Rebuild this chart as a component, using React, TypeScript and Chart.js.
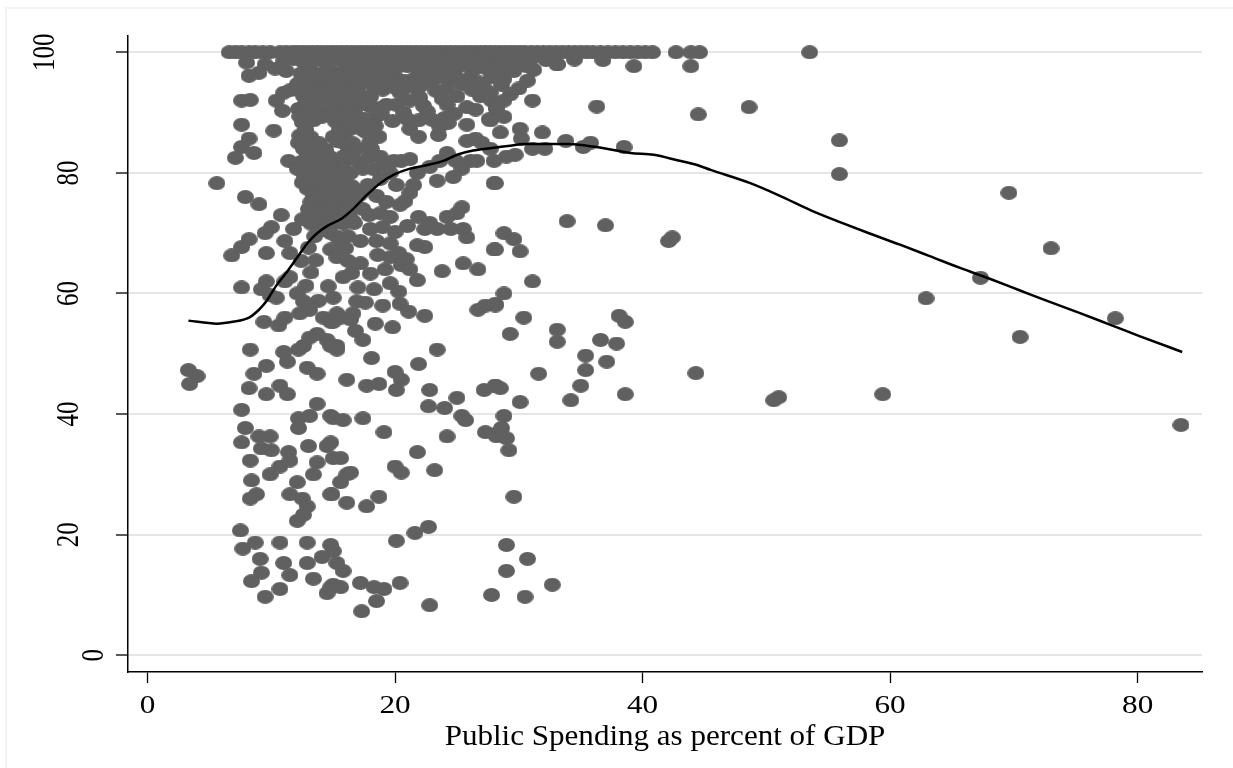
import React, { useEffect, useRef } from "react";
import { Chart, registerables } from "chart.js";

Chart.register(...registerables);

// Axis ticks and title
const xTicks = [0, 20, 40, 60, 80];
const yTicks = [0, 20, 40, 60, 80, 100];
const xTitle = "Public Spending as percent of GDP";

// Observations sitting at the 100 ceiling (x = public spending, % of GDP)
const pointsAt100X = [
  6.6, 7.1, 7.6, 8.2, 8.7, 9.3, 9.9, 10.7, 11.2, 11.7, 12.1, 12.5, 12.9, 13.3, 13.7, 14.1, 14.5, 14.9,
  15.3, 15.7, 16.1, 16.5, 16.9, 17.3, 17.7, 18.1, 18.5, 18.9, 19.3, 19.7, 20.1, 20.5, 20.9, 21.3, 21.7,
  22.1, 22.5, 22.9, 23.3, 23.7, 24.1, 24.5, 24.9, 25.3, 25.7, 26.1, 26.5, 26.9, 27.3, 27.7, 28.1, 28.5,
  28.9, 29.3, 29.7, 30.1, 30.5, 31.0, 31.5, 32.0, 32.5, 33.0, 33.5, 34.0, 34.5, 35.0, 35.5, 36.0, 36.6,
  37.2, 37.8, 38.4, 39.0, 39.6, 40.2, 40.8, 42.7, 43.9, 44.6, 53.5,
];

// Band just below the ceiling
const upperBand: [number, number][] = [
  [8.0, 98.3], [9.5, 98.0], [10.3, 97.3], [11.0, 98.6], [11.8, 98.9], [12.6, 98.4], [13.4, 98.8],
  [14.2, 98.5], [15.0, 98.9], [15.8, 98.4], [16.6, 98.8], [17.4, 98.3], [18.2, 98.7], [19.0, 98.4],
  [19.8, 98.9], [20.6, 98.5], [21.4, 98.8], [22.2, 98.4], [23.0, 98.9], [23.8, 98.5], [24.6, 98.8],
  [25.4, 98.3], [26.2, 98.7], [27.0, 98.4], [27.8, 98.8], [28.6, 98.5], [29.4, 99.0], [30.2, 98.6],
  [31.0, 98.9], [32.2, 98.7], [33.1, 98.0], [34.5, 98.8], [36.8, 98.7],
  [9.0, 96.6], [11.2, 96.9], [12.4, 96.5], [13.2, 97.0], [14.0, 96.4], [14.8, 96.9], [15.6, 96.5],
  [16.4, 97.0], [17.2, 96.4], [18.0, 96.8], [19.1, 97.0], [20.1, 95.7], [20.8, 95.3], [22.0, 97.0],
  [23.2, 96.6], [24.1, 96.9], [24.8, 96.2], [25.5, 95.3], [26.3, 97.0], [27.4, 97.3], [28.4, 96.8],
  [29.6, 96.9], [31.2, 97.1], [39.3, 97.7], [43.9, 97.7], [8.2, 96.1],
  [17.0, 97.6], [17.8, 97.7], [18.6, 97.5], [19.4, 97.8], [20.2, 97.6], [21.0, 97.7], [21.8, 97.5],
  [22.6, 97.8], [23.4, 97.6], [24.2, 97.7], [25.0, 97.5], [25.8, 97.8], [26.6, 97.6], [27.4, 97.7],
  [28.2, 97.5], [29.0, 97.8], [29.8, 97.6], [30.6, 97.7],
  [18.6, 95.8], [19.4, 95.9], [21.6, 95.7], [22.4, 95.9], [23.2, 95.6], [24.0, 95.8], [26.0, 95.7],
  [27.8, 95.9], [28.8, 95.6],
  [17.0, 94.0], [19.0, 93.8], [20.0, 94.1], [21.8, 93.9], [24.2, 94.0], [26.2, 93.8], [27.2, 94.1],
  [18.0, 91.0], [18.8, 90.8], [22.3, 91.1], [25.8, 90.9], [18.3, 89.0], [21.0, 88.9], [24.0, 89.1],
];

// Crowded core between roughly 12 and 28 percent
const denseCore: [number, number][] = [
  [12.3, 95.0], [13.2, 94.6], [14.1, 95.2], [15.0, 94.7], [15.9, 95.1], [16.8, 94.4], [17.7, 95.2],
  [12.6, 92.8], [13.5, 93.1], [14.4, 92.5], [15.3, 92.9], [17.1, 93.0], [18.3, 94.0],
  [12.2, 90.6], [13.1, 90.3], [14.0, 90.8], [14.9, 90.4], [15.8, 90.9], [16.7, 90.2],
  [12.5, 88.4], [13.4, 88.7], [15.2, 88.5], [16.1, 88.0], [17.0, 88.8],
  [12.3, 86.2], [13.2, 85.9], [15.0, 86.0], [15.9, 86.5],
  [12.6, 84.0], [13.5, 84.3], [14.4, 83.8], [16.2, 83.7],
  [12.4, 81.8], [13.3, 81.5], [14.2, 82.0], [15.1, 81.6], [16.0, 82.1], [17.0, 81.9],
  [12.7, 79.6], [13.6, 79.9], [14.5, 79.3], [15.4, 79.7],
  [12.9, 77.4], [13.8, 77.1], [14.7, 77.6], [15.6, 77.2], [16.5, 77.8], [17.4, 77.0],
  [13.2, 75.2], [14.1, 75.5], [15.0, 74.9], [15.9, 75.3], [16.8, 74.8],
  [13.6, 73.0], [14.5, 72.6], [15.4, 73.2], [16.3, 72.7],
  [19.5, 95.0], [21.0, 94.3], [22.4, 94.8], [23.3, 93.6], [18.9, 89.8], [19.8, 88.6], [17.5, 89.0],
  [20.7, 90.0], [22.6, 90.2], [23.0, 88.8], [24.8, 89.8], [25.8, 88.0], [26.5, 90.5], [27.6, 88.9],
  [25.0, 95.6], [26.8, 95.0], [28.6, 94.6], [22.0, 92.5],
];

// Second layer of the crowded core, offset between the rows above
const coreFill: [number, number][] = [
  [12.8, 96.0], [13.7, 96.1], [14.6, 95.9], [15.5, 96.0], [16.4, 96.1],
  [12.2, 93.8], [13.0, 93.9], [13.9, 93.7], [14.8, 93.8], [15.7, 93.9],
  [12.8, 91.6], [13.6, 91.7], [14.5, 91.5], [15.4, 91.6], [16.3, 91.7], [17.3, 91.5],
  [12.3, 89.4], [13.2, 89.5], [14.1, 89.3], [15.0, 89.4], [15.9, 89.5], [16.8, 89.3],
  [12.8, 87.2], [15.5, 87.2], [16.4, 87.3], [17.4, 87.1],
  [12.2, 85.0], [13.0, 85.1], [13.9, 84.9], [15.7, 85.1], [16.6, 84.9],
  [12.9, 82.8], [13.8, 82.9], [14.7, 82.7], [16.5, 82.9],
  [12.3, 80.6], [13.1, 80.7], [14.0, 80.5], [14.9, 80.6], [15.8, 80.7],
  [12.5, 78.4], [13.3, 78.5], [14.2, 78.3], [15.1, 78.4], [16.0, 78.5],
  [13.4, 76.2], [14.3, 76.3], [15.2, 76.1], [16.1, 76.2], [17.1, 76.3],
  [13.0, 74.0], [13.9, 74.1], [14.8, 73.9], [15.7, 74.0], [16.6, 74.1],
  [13.2, 71.6], [14.0, 71.7], [14.9, 71.5], [15.8, 71.6], [16.7, 71.7],
  [13.5, 69.5], [15.3, 69.4], [16.2, 69.5],
  [13.0, 67.6], [16.0, 67.5],
  [12.4, 65.4], [13.6, 65.5], [16.2, 65.4],
  [13.2, 63.5], [16.5, 63.4],
  [12.8, 61.3], [14.6, 61.2], [17.0, 61.0],
  [13.8, 58.8], [16.9, 58.7],
  [18.0, 92.6], [18.4, 87.8], [17.9, 84.9], [18.3, 80.6], [17.9, 82.6],
  [17.8, 78.0], [18.5, 76.2], [19.3, 75.2], [17.9, 73.0], [19.0, 71.0], [20.0, 70.2], [21.0, 71.2],
  [18.6, 66.4], [19.2, 64.0], [21.8, 62.2], [17.2, 65.0], [17.6, 58.5], [19.0, 58.0], [16.8, 53.8],
  [18.4, 55.0], [19.8, 54.4],
];

// Lowest spending levels (below about 15 percent)
const leftColumn: [number, number][] = [
  [3.3, 47.3], [4.0, 46.3], [3.4, 45.0], [5.6, 78.3],
  [7.6, 92.0], [8.3, 92.1], [10.4, 92.0], [11.0, 93.3], [11.5, 93.7], [12.1, 94.7],
  [7.6, 88.0], [10.2, 87.0], [10.9, 90.3],
  [8.2, 85.7], [7.6, 84.3], [8.6, 83.3], [7.1, 82.5],
  [11.4, 82.0], [12.1, 80.7], [12.7, 79.0],
  [7.9, 76.0], [9.0, 74.8],
  [10.8, 73.0], [10.0, 71.0], [9.5, 70.0], [8.2, 69.0], [7.6, 67.7], [6.8, 66.3],
  [9.6, 66.7], [11.5, 66.7], [11.1, 68.7], [11.8, 70.7], [12.5, 72.3], [13.1, 73.7], [14.2, 70.5], [14.8, 70.0],
  [7.6, 61.0], [9.6, 62.0], [9.2, 60.7], [9.9, 59.7], [10.4, 59.3], [11.1, 62.0], [11.5, 62.7],
  [12.1, 60.0], [12.6, 58.7], [13.1, 57.3], [12.3, 56.7],
  [9.4, 55.3], [10.6, 54.7], [11.1, 56.0],
  [14.2, 56.0], [14.8, 55.3], [15.3, 56.7], [13.7, 53.3], [14.5, 52.3], [15.3, 51.3], [13.1, 52.7],
  [12.6, 51.3], [12.2, 50.7],
  [8.3, 50.7], [9.6, 48.0], [8.6, 46.7], [8.2, 44.3],
  [11.0, 50.3], [11.3, 48.7], [10.7, 44.7], [11.3, 43.3], [9.6, 43.3],
  [12.9, 47.7], [13.7, 46.7], [13.7, 41.7], [13.1, 39.7],
  [7.6, 40.7], [7.9, 37.7], [7.6, 35.3], [8.3, 32.3], [8.4, 29.0], [8.8, 26.7], [8.3, 26.0],
  [9.0, 36.3], [9.9, 36.3], [9.2, 34.3], [10.0, 34.0], [10.7, 31.3], [9.9, 30.0],
  [12.2, 39.3], [12.2, 37.7], [11.4, 33.7], [11.5, 32.3], [12.1, 28.7], [11.5, 26.7], [12.5, 26.0],
  [12.9, 24.7], [12.6, 23.3], [12.1, 22.3],
  [13.0, 34.7], [13.7, 32.0], [14.5, 34.7], [15.0, 32.7], [14.9, 26.7], [13.4, 30.0], [15.0, 39.3],
  [7.5, 20.7], [7.7, 17.7], [8.7, 18.7], [9.1, 16.0], [9.2, 13.7], [8.4, 12.3], [9.5, 9.7],
  [10.7, 18.7], [11.0, 15.3], [10.7, 11.0], [11.5, 13.3], [12.9, 18.7], [12.9, 15.3], [13.4, 12.7],
  [14.1, 16.3], [14.5, 10.3], [15.0, 11.7], [15.0, 17.3],
];

// Middle spending levels (about 15 to 28 percent)
const middleColumn: [number, number][] = [
  [16.4, 93.3], [17.4, 92.0], [19.3, 91.3], [20.4, 93.3], [20.1, 91.3], [21.2, 92.0],
  [23.8, 92.3], [24.2, 91.3], [25.0, 92.7], [25.4, 94.7], [26.9, 92.7], [27.4, 93.3], [27.8, 92.0], [28.2, 90.7],
  [21.2, 87.3], [21.9, 88.7], [21.9, 86.0], [23.5, 86.3], [23.6, 87.7], [24.3, 88.3], [25.8, 85.3],
  [26.5, 85.7], [27.0, 85.0], [27.7, 84.0], [28.0, 82.0],
  [16.4, 88.0], [17.7, 86.7], [18.7, 86.0], [18.1, 84.0], [18.8, 82.7], [19.1, 81.3], [19.9, 82.0],
  [20.5, 82.0], [21.2, 82.3],
  [15.3, 85.3], [15.8, 82.7], [16.9, 84.0], [15.0, 80.0], [16.4, 80.0], [17.4, 80.7],
  [21.8, 80.0], [22.8, 81.0], [23.6, 82.0], [24.2, 83.3], [24.9, 82.0], [23.4, 78.7], [24.7, 79.3],
  [25.4, 80.7], [26.1, 82.0], [26.6, 82.0],
  [19.6, 80.0], [18.8, 79.0], [20.1, 78.0], [21.2, 76.7], [21.5, 78.0], [20.8, 75.3], [20.4, 74.7],
  [28.0, 78.3],
  [15.3, 76.7], [16.4, 75.3], [17.4, 74.0], [16.6, 72.0], [18.0, 70.7], [15.6, 72.0], [14.8, 74.0],
  [18.8, 73.3], [19.6, 72.7], [17.2, 68.7], [15.6, 68.7],
  [21.9, 72.7], [22.4, 70.7], [22.8, 71.7], [23.4, 70.7], [24.2, 72.7], [24.5, 70.7], [25.0, 73.3],
  [25.4, 74.3], [25.8, 69.3], [25.5, 70.7],
  [28.0, 67.3],
  [18.5, 68.7], [19.6, 68.3], [20.3, 66.7], [19.6, 66.0], [20.5, 64.7], [20.9, 65.7], [21.2, 64.0],
  [21.8, 68.0], [22.4, 67.7],
  [23.8, 63.7], [25.5, 65.0], [26.7, 64.0],
  [18.0, 63.3], [18.3, 60.7], [19.6, 61.7], [20.3, 60.3], [20.4, 58.3], [21.1, 57.0], [22.4, 56.3],
  [26.7, 57.3], [27.3, 58.0], [28.1, 58.3],
  [14.8, 67.3], [15.3, 66.0], [15.8, 62.7], [15.0, 59.3], [15.6, 56.0], [16.4, 55.7], [15.0, 55.3], [16.6, 56.7],
  [17.4, 52.3], [18.1, 49.3], [16.1, 45.7], [17.7, 44.7], [18.7, 45.0], [20.0, 47.0], [20.5, 45.7],
  [20.1, 44.0], [22.8, 44.0], [23.4, 50.7], [21.9, 48.3],
  [14.8, 51.3], [15.3, 50.7],
  [22.7, 41.3], [24.0, 41.0], [25.0, 42.7], [25.4, 39.7], [25.7, 39.0], [27.2, 44.0], [28.1, 44.7],
  [27.3, 37.0], [28.2, 36.3],
  [14.8, 39.7], [15.8, 39.0], [17.4, 39.3], [19.1, 37.0], [24.2, 36.3],
  [14.8, 35.3], [15.6, 32.7], [16.1, 30.0], [16.4, 30.3], [15.6, 28.7], [14.8, 26.7], [16.1, 25.3],
  [17.7, 24.7], [18.7, 26.3],
  [20.0, 31.3], [20.5, 30.3], [21.8, 33.7], [23.2, 30.7],
  [20.1, 19.0], [21.6, 20.3], [22.7, 21.3],
  [14.8, 18.3], [15.3, 15.3], [15.8, 14.0], [14.8, 11.3], [15.6, 11.3], [17.2, 12.0], [18.3, 11.3],
  [19.1, 11.0], [18.5, 9.0], [17.3, 7.3], [20.4, 12.0], [22.8, 8.3], [27.8, 10.0],
];

// Upper-middle spending levels (about 28 to 45 percent)
const rightColumn: [number, number][] = [
  [27.7, 97.3], [29.4, 99.0], [33.1, 98.0],
  [30.7, 95.3], [30.0, 94.0], [29.3, 93.0], [28.8, 92.0], [31.1, 92.0], [36.3, 91.0],
  [44.5, 89.7],
  [27.7, 93.3], [28.2, 90.7], [28.8, 89.3], [27.7, 88.7], [28.5, 86.7],
  [30.1, 87.3], [31.9, 86.7], [30.2, 85.7], [31.1, 84.0], [32.1, 84.0], [33.8, 85.3], [35.2, 84.3],
  [35.8, 85.0], [38.5, 84.3], [29.0, 82.7], [29.7, 83.0],
  [28.1, 78.3],
  [33.9, 72.0], [37.0, 71.3], [42.1, 68.7], [42.4, 69.3],
  [28.8, 70.0], [29.6, 69.0], [28.1, 67.3], [30.1, 67.0],
  [31.1, 62.0],
  [28.8, 60.0], [28.1, 58.0], [30.4, 56.0], [29.3, 53.3], [33.1, 54.0], [33.1, 52.0], [36.6, 52.3],
  [37.9, 51.7], [38.1, 56.3], [38.6, 55.3], [35.4, 49.7], [35.4, 47.3], [37.1, 48.7], [35.0, 44.7],
  [34.2, 42.3], [38.6, 43.3], [31.6, 46.7], [44.3, 46.8],
  [28.1, 44.7], [28.5, 44.3], [30.1, 42.0],
  [28.8, 39.7], [28.6, 37.7], [28.1, 36.7], [29.0, 36.0], [29.2, 34.0],
  [29.6, 26.3],
  [29.0, 18.3], [30.7, 16.0], [29.0, 14.0], [32.7, 11.7], [30.5, 9.7],
];

// High spending outliers
const farRight: [number, number][] = [
  [48.6, 90.9], [55.9, 85.4], [55.9, 79.8], [69.6, 76.7], [73.0, 67.5], [67.3, 62.6], [62.9, 59.2],
  [78.2, 55.9], [70.5, 52.8], [50.6, 42.3], [51.0, 42.8], [59.4, 43.3], [83.5, 38.2],
];

// Lowess smoother
const lowessX = [
  3.3, 5.6, 6.9, 8.2, 9.0, 9.6, 10.4, 11.3, 12.1, 12.9, 13.7, 14.6, 15.6, 16.6, 17.7, 18.8, 19.9, 21.2,
  22.6, 23.9, 25.0, 26.3, 27.7, 29.3, 30.4, 31.7, 33.9, 35.5, 37.1, 39.0, 40.9, 42.8, 44.4, 45.5, 48.7,
  51.1, 53.6, 56.0, 58.4, 60.8, 63.2, 65.7, 68.1, 70.5, 72.9, 75.4, 77.8, 80.2, 83.6,
];
const lowessY = [
  55.5, 55.0, 55.3, 56.0, 57.3, 58.7, 61.3, 63.7, 66.0, 68.3, 70.0, 71.3, 72.3, 74.0, 76.3, 78.3, 79.7, 80.7,
  81.3, 82.0, 83.0, 83.7, 84.1, 84.5, 84.8, 84.8, 84.8, 84.5, 84.0, 83.3, 83.0, 82.1, 81.3, 80.5, 78.3,
  76.2, 73.8, 71.8, 69.9, 68.1, 66.2, 64.2, 62.4, 60.5, 58.6, 56.7, 54.8, 52.9, 50.3,
];

const SERIF = "'Liberation Serif', 'Times New Roman', serif";

function makeMarker(): HTMLCanvasElement {
  const c = document.createElement("canvas");
  c.width = 17;
  c.height = 14;
  const g = c.getContext("2d")!;
  g.fillStyle = "#606060";
  g.beginPath();
  g.ellipse(8.5, 7, 8.5, 7, 0, 0, Math.PI * 2);
  g.fill();
  return c;
}

const framePlugin = {
  id: "frame",
  beforeDraw(chart: any) {
    const { ctx, width, height } = chart;
    ctx.save();
    ctx.fillStyle = "#ffffff";
    ctx.fillRect(0, 0, width, height);
    ctx.strokeStyle = "#f1f1f1";
    ctx.lineWidth = 1.5;
    ctx.beginPath();
    ctx.moveTo(6, height);
    ctx.lineTo(6, 8);
    ctx.lineTo(width, 8);
    ctx.stroke();
    ctx.restore();
  },
};

const labelPlugin = {
  id: "axisText",
  afterDraw(chart: any) {
    const { ctx, chartArea } = chart;
    const xs = chart.scales.x;
    const ys = chart.scales.y;
    ctx.save();
    ctx.fillStyle = "#000";

    // x tick labels
    ctx.font = `26px ${SERIF}`;
    ctx.textAlign = "center";
    ctx.textBaseline = "alphabetic";
    for (const v of xTicks) {
      const px = xs.getPixelForValue(v);
      ctx.save();
      ctx.translate(px, chartArea.bottom + 40.5);
      ctx.scale(1.2, 1);
      ctx.fillText(String(v), 0, 0);
      ctx.restore();
    }

    // y tick labels, rotated to read upward
    ctx.font = `25px ${SERIF}`;
    for (const v of yTicks) {
      const label = String(v);
      const py = ys.getPixelForValue(v);
      const right = chartArea.left - 1 - 24.5 * label.length;
      ctx.save();
      ctx.translate(right, py);
      ctx.rotate(-Math.PI / 2);
      ctx.scale(1, 1.24);
      ctx.fillText(label, 0, 0);
      ctx.restore();
    }

    // x axis title
    ctx.font = `30px ${SERIF}`;
    ctx.save();
    ctx.translate((chartArea.left + chartArea.right) / 2, chartArea.bottom + 73);
    ctx.scale(1.035, 1);
    ctx.fillText(xTitle, 0, 0);
    ctx.restore();

    ctx.restore();
  },
};

export default function App() {
  const canvasRef = useRef<HTMLCanvasElement | null>(null);

  useEffect(() => {
    if (!canvasRef.current) return;
    const marker = makeMarker();

    const scatterPoints = [
      ...pointsAt100X.map((x) => ({ x, y: 100 })),
      ...upperBand.map(([x, y]) => ({ x, y })),
      ...denseCore.map(([x, y]) => ({ x, y })),
      ...coreFill.map(([x, y]) => ({ x, y })),
      ...leftColumn.map(([x, y]) => ({ x, y })),
      ...middleColumn.map(([x, y]) => ({ x, y })),
      ...rightColumn.map(([x, y]) => ({ x, y })),
      ...farRight.map(([x, y]) => ({ x, y })),
    ];
    const lowessPoints = lowessX.map((x, i) => ({ x, y: lowessY[i] }));

    const chart = new Chart(canvasRef.current, {
      type: "scatter",
      data: {
        datasets: [
          {
            label: "lowess",
            data: lowessPoints,
            showLine: true,
            borderColor: "#000000",
            borderWidth: 2.5,
            pointRadius: 0,
            fill: false,
            cubicInterpolationMode: "monotone",
          } as any,
          {
            label: "observations",
            data: scatterPoints,
            pointStyle: marker as any,
            pointRadius: 7,
            backgroundColor: "#606060",
            borderWidth: 0,
          },
        ],
      },
      options: {
        animation: false,
        responsive: false,
        devicePixelRatio: 1,
        events: [],
        layout: { padding: { left: 0, right: 31, top: 36, bottom: 0 } },
        plugins: {
          legend: { display: false },
          tooltip: { enabled: false },
          title: { display: false },
        },
        scales: {
          x: {
            type: "linear",
            min: -1.58,
            max: 85.2,
            afterBuildTicks: (s: any) => {
              s.ticks = xTicks.map((value) => ({ value }));
            },
            afterFit: (s: any) => {
              s.height = 96;
            },
            grid: {
              drawOnChartArea: false,
              drawTicks: true,
              tickLength: 11,
              tickColor: "#000000",
              tickWidth: 1.3,
            },
            border: { display: true, color: "#000000", width: 1.5 },
            ticks: { display: false },
          },
          y: {
            type: "linear",
            min: -2.77,
            max: 102.7,
            afterBuildTicks: (s: any) => {
              s.ticks = yTicks.map((value) => ({ value }));
            },
            afterFit: (s: any) => {
              s.width = 128;
            },
            grid: {
              color: "#e6e6e6",
              lineWidth: 2,
              drawTicks: true,
              tickLength: 12,
              tickColor: "#000000",
              tickWidth: 1.3,
            },
            border: { display: true, color: "#000000", width: 1.5 },
            ticks: { display: false },
          },
        },
      },
      plugins: [framePlugin, labelPlugin],
    });

    return () => chart.destroy();
  }, []);

  return (
    <div style={{ position: "fixed", left: 0, top: 0, width: 1233, height: 768, background: "#fff" }}>
      <canvas ref={canvasRef} width={1233} height={768} style={{ display: "block" }} />
    </div>
  );
}
